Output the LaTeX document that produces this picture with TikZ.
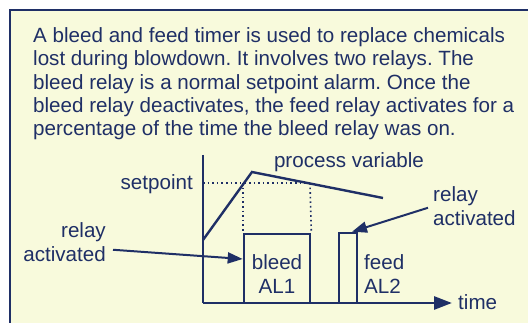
\documentclass[tikz,border=0pt]{standalone}
\usepackage{fontspec}
\setmainfont{Liberation Sans}
\usetikzlibrary{arrows.meta}
\definecolor{navy}{HTML}{1F2F66}
\definecolor{panel}{HTML}{F8FADC}
\frenchspacing
\tikzset{
  lbl/.style={text=navy, font=\fontsize{20.6}{24}\selectfont, inner sep=0pt},
  axis/.style={draw=navy, line width=2.8pt},
  curve/.style={draw=navy, line width=2.4pt},
  guide/.style={draw=navy, line width=1.6pt, dash pattern=on 1.6pt off 3pt},
  relaybox/.style={draw=navy, line width=2.6pt, rectangle, inner sep=0pt},
  pointer/.style={draw=navy, line width=2pt, -{Triangle[length=15pt,width=11pt]}},
}

\begin{document}
\begin{tikzpicture}[x=1pt,y=-1pt]
  \useasboundingbox (0,0) rectangle (528,323);
  \fill[white] (0,0) rectangle (528,323);
  \draw[fill=panel, draw=navy, line width=2.5pt] (10,10) rectangle (560,360);

  % explanation
  \node[lbl, align=left, anchor=north west, font=\fontsize{20.6}{23.3}\selectfont\frenchspacing] (intro) at (33,27.5)
    {A bleed and feed timer is used to replace chemicals\\
     lost during blowdown. It involves two relays. The\\
     bleed relay is a normal setpoint alarm. Once the\\
     bleed relay deactivates, the feed relay activates for a\\
     percentage of the time the bleed relay was on.};

  % axes
  \coordinate (O) at (203,303);
  \coordinate (ytop) at (203,155);
  \coordinate (xend) at (452,303);
  \node[lbl, anchor=base west] (time) at (458,310) {time};

  % relay boxes
  \node[relaybox, minimum width=66pt, minimum height=69pt] (bleed) at (277,268.5) {};
  \node[relaybox, minimum width=18pt, minimum height=70pt] (feed) at (348,268) {};
  \node[lbl, align=center, anchor=north] (bleedtxt) at (277,254) {bleed\\AL1};
  \node[lbl, align=left, anchor=north west] (feedtxt) at (364,254) {feed\\AL2};

  % process variable
  \coordinate (pv0) at (203,240);
  \coordinate (pvpk) at (252,172);
  \coordinate (pv1) at (383,198);
  \coordinate (sp) at (310,183);
  \node[lbl, anchor=base] (pvtxt) at (349,168) {process variable};
  \node[lbl, anchor=base east] (sptxt) at (193,190) {setpoint};

  \node[lbl, align=right, anchor=north east] (lrelay) at (106,222) {relay\\activated};
  \node[lbl, align=left, anchor=north west] (rrelay) at (433,186) {relay\\activated};

  \draw[guide] (O |- sp) -- (sp);
  \draw[guide] (bleed.north west |- sp) -- (bleed.north west);
  \draw[guide] (sp) -- (bleed.north east);
  \draw[axis] (ytop) -- (O);
  \draw[axis, -{Triangle[length=18pt,width=13pt]}] (O) -- (xend);
  \draw[curve] (pv0) -- (pvpk) -- (pv1);

  \draw[pointer] ([xshift=7pt,yshift=-8pt]lrelay.east) -- ([yshift=9.5pt]bleed.west);
  \draw[pointer] ([xshift=-5pt,yshift=-2pt]rrelay.west) -- ([xshift=4pt]feed.north);
\end{tikzpicture}
\end{document}
